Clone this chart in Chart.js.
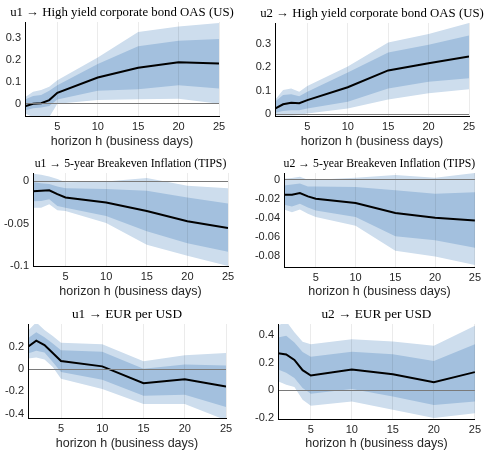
<!DOCTYPE html>
<html>
<head>
<meta charset="utf-8">
<script src="https://cdn.jsdelivr.net/npm/chart.js@4"></script>
<style>
  body { margin: 0; background: #fff; width: 485px; height: 452px; position: relative; overflow: hidden; }
  canvas { position: absolute; }
</style>
</head>
<body>
<script>
// horizons (business days)
const horizons = [1, 2, 3, 4, 5, 10, 15, 20, 25];
const xTicks = [5, 10, 15, 20, 25];

// u1 -> HY OAS
const oasU1Mean    = [-0.011, 0.0, 0.003, 0.017, 0.05, 0.119, 0.163, 0.188, 0.182];
const oasU1DarkUp  = [0.02, 0.035, 0.04, 0.059, 0.084, 0.18, 0.26, 0.285, 0.293];
const oasU1DarkLo  = [-0.03, -0.02, -0.017, -0.01, 0.02, 0.059, 0.066, 0.084, 0.069];
const oasU1LightUp = [0.03, 0.055, 0.062, 0.077, 0.107, 0.21, 0.325, 0.35, 0.366];
const oasU1LightLo = [-0.044, -0.06, -0.06, -0.06, 0.0, 0.017, 0.021, 0.023, 0.0];

// u2 -> HY OAS
const oasU2Mean    = [0.024, 0.042, 0.049, 0.047, 0.06, 0.115, 0.187, 0.218, 0.247];
const oasU2DarkUp  = [0.053, 0.082, 0.085, 0.077, 0.096, 0.178, 0.264, 0.297, 0.336];
const oasU2DarkLo  = [0.006, 0.013, 0.017, 0.017, 0.024, 0.053, 0.11, 0.139, 0.154];
const oasU2LightUp = [0.06, 0.103, 0.11, 0.096, 0.12, 0.204, 0.307, 0.343, 0.39];
const oasU2LightLo = [-0.006, -0.006, -0.006, -0.004, 0.003, 0.024, 0.063, 0.089, 0.106];

// u1 -> 5y breakeven
const bkU1Mean    = [-0.0116, -0.011, -0.0104, -0.015, -0.019, -0.025, -0.035, -0.047, -0.055];
const bkU1DarkUp  = [-0.001, -0.002, -0.003, -0.006, -0.008, -0.009, -0.011, -0.019, -0.026];
const bkU1DarkLo  = [-0.0235, -0.023, -0.021, -0.029, -0.031, -0.041, -0.059, -0.073, -0.083];
const bkU1LightUp = [0.009, 0.008, 0.006, 0.003, -0.001, 0.0, 0.004, -0.005, -0.008];
const bkU1LightLo = [-0.031, -0.031, -0.027, -0.034, -0.035, -0.049, -0.075, -0.088, -0.1];

// u2 -> 5y breakeven
const bkU2Mean    = [-0.0157, -0.0157, -0.014, -0.0174, -0.0198, -0.0243, -0.0348, -0.0397, -0.0424];
const bkU2DarkUp  = [-0.006, -0.005, -0.004, -0.007, -0.007, -0.0077, -0.011, -0.0146, -0.013];
const bkU2DarkLo  = [-0.026, -0.028, -0.025, -0.029, -0.032, -0.039, -0.059, -0.063, -0.071];
const bkU2LightUp = [0.001, 0.0017, 0.003, 0.0, 0.0, 0.002, 0.005, 0.002, 0.007];
const bkU2LightLo = [-0.031, -0.034, -0.031, -0.0355, -0.039, -0.048, -0.074, -0.08, -0.089];

// u1 -> EUR per USD
const fxU1Mean    = [0.2, 0.255, 0.215, 0.145, 0.073, 0.024, -0.127, -0.091, -0.158];
const fxU1DarkUp  = [0.276, 0.33, 0.285, 0.23, 0.17, 0.155, 0.003, 0.042, 0.033];
const fxU1DarkLo  = [0.14, 0.164, 0.148, 0.064, -0.027, -0.097, -0.24, -0.23, -0.34];
const fxU1LightUp = [0.345, 0.42, 0.35, 0.297, 0.236, 0.224, 0.07, 0.124, 0.145];
const fxU1LightLo = [0.094, 0.103, 0.085, 0.018, -0.088, -0.179, -0.315, -0.315, -0.46];

// u2 -> EUR per USD
const fxU2Mean    = [0.268, 0.26, 0.22, 0.146, 0.107, 0.151, 0.117, 0.059, 0.132];
const fxU2DarkUp  = [0.383, 0.395, 0.346, 0.278, 0.244, 0.28, 0.261, 0.212, 0.334];
const fxU2DarkLo  = [0.151, 0.127, 0.09, 0.017, -0.024, 0.01, -0.044, -0.105, -0.08];
const fxU2LightUp = [0.468, 0.5, 0.42, 0.351, 0.334, 0.37, 0.354, 0.322, 0.468];
const fxU2LightLo = [0.066, 0.041, 0.024, -0.068, -0.112, -0.08, -0.141, -0.2, -0.166];

// y tick values and labels
const yTicksOas  = [0, 0.1, 0.2, 0.3];
const yLabelsOas = ['0', '0.1', '0.2', '0.3'];
const yTicksBk1  = [-0.1, -0.05, 0];
const yLabelsBk1 = ['-0.1', '-0.05', '0'];
const yTicksBk2  = [-0.08, -0.06, -0.04, -0.02, 0];
const yLabelsBk2 = ['-0.08', '-0.06', '-0.04', '-0.02', '0'];
const yTicksFx1  = [-0.4, -0.2, 0, 0.2];
const yLabelsFx1 = ['-0.4', '-0.2', '0', '0.2'];
const yTicksFx2  = [-0.2, 0, 0.2, 0.4];
const yLabelsFx2 = ['-0.2', '0', '0.2', '0.4'];

const LIGHT = 'rgb(205,221,237)';
const DARK = 'rgb(163,192,222)';
const SANS = "'Liberation Sans', Arial, sans-serif";
const SERIF = "'Liberation Serif', 'DejaVu Serif', serif";

const panels = [
  { title: 'u1 → High yield corporate bond OAS (US)', titleSize: 12.8, x: 0, y: 0, w: 243, h: 150,
    plotL: 25, plotR: 219, plotT: 22, titleY: 12.7, plotB: 116, yMin: -0.055, yMax: 0.37,
    yTicks: yTicksOas, yLabels: yLabelsOas,
    mean: oasU1Mean, darkUp: oasU1DarkUp, darkLo: oasU1DarkLo, lightUp: oasU1LightUp, lightLo: oasU1LightLo },
  { title: 'u2 → High yield corporate bond OAS (US)', titleSize: 12.8, x: 243, y: 0, w: 242, h: 150,
    plotL: 275, plotR: 469, plotT: 23, titleY: 14, plotB: 116, yMin: -0.008, yMax: 0.39,
    yTicks: yTicksOas, yLabels: yLabelsOas,
    mean: oasU2Mean, darkUp: oasU2DarkUp, darkLo: oasU2DarkLo, lightUp: oasU2LightUp, lightLo: oasU2LightLo },
  { title: 'u1 → 5-year Breakeven Inflation (TIPS)', titleSize: 11.8, x: 0, y: 150, w: 243, h: 150,
    plotL: 33, plotR: 228, plotT: 173, titleY: 164, plotB: 266, yMin: -0.1, yMax: 0.01,
    yTicks: yTicksBk1, yLabels: yLabelsBk1,
    mean: bkU1Mean, darkUp: bkU1DarkUp, darkLo: bkU1DarkLo, lightUp: bkU1LightUp, lightLo: bkU1LightLo },
  { title: 'u2 → 5-year Breakeven Inflation (TIPS)', titleSize: 11.8, x: 243, y: 150, w: 242, h: 150,
    plotL: 284, plotR: 476, plotT: 173, titleY: 164, plotB: 267, yMin: -0.091, yMax: 0.007,
    yTicks: yTicksBk2, yLabels: yLabelsBk2,
    mean: bkU2Mean, darkUp: bkU2DarkUp, darkLo: bkU2DarkLo, lightUp: bkU2LightUp, lightLo: bkU2LightLo },
  { title: 'u1 → EUR per USD', titleSize: 13.3, x: 0, y: 300, w: 243, h: 152,
    plotL: 28, plotR: 226, plotT: 324, titleY: 315, plotB: 418, yMin: -0.44, yMax: 0.405,
    yTicks: yTicksFx1, yLabels: yLabelsFx1,
    mean: fxU1Mean, darkUp: fxU1DarkUp, darkLo: fxU1DarkLo, lightUp: fxU1LightUp, lightLo: fxU1LightLo },
  { title: 'u2 → EUR per USD', titleSize: 13.3, x: 243, y: 300, w: 242, h: 152,
    plotL: 278, plotR: 476, plotT: 324, titleY: 315, plotB: 419, yMin: -0.207, yMax: 0.48,
    yTicks: yTicksFx2, yLabels: yLabelsFx2,
    mean: fxU2Mean, darkUp: fxU2DarkUp, darkLo: fxU2DarkLo, lightUp: fxU2LightUp, lightLo: fxU2LightLo },
];

const pts = arr => horizons.map((h, i) => ({ x: h, y: arr[i] }));
const band = (arr, fill, color) => ({
  data: pts(arr), fill: fill, backgroundColor: color || 'transparent',
  borderWidth: 0, borderColor: 'transparent', pointRadius: 0
});

// panel title centred over the plot area, allowed to run past its edges
const panelTitle = {
  id: 'panelTitle',
  afterDraw(chart, args, opts) {
    const { ctx, chartArea } = chart;
    ctx.save();
    ctx.font = opts.size + 'px ' + SERIF;
    ctx.fillStyle = '#000';
    ctx.textAlign = 'center';
    ctx.textBaseline = 'middle';
    ctx.fillText(opts.text, (chartArea.left + chartArea.right) / 2, opts.y);
    ctx.restore();
  }
};

panels.forEach(p => {
  const cv = document.createElement('canvas');
  cv.width = p.w; cv.height = p.h;
  cv.style.left = p.x + 'px'; cv.style.top = p.y + 'px';
  document.body.appendChild(cv);

  new Chart(cv.getContext('2d'), {
    type: 'line',
    data: {
      datasets: [
        { data: pts(p.mean), borderColor: '#000', borderWidth: 2, pointRadius: 0, fill: false },
        band(p.darkLo, false),
        band(p.darkUp, '-1', DARK),
        band(p.lightLo, false),
        band(p.lightUp, '-1', LIGHT),
      ]
    },
    plugins: [panelTitle],
    options: {
      responsive: false,
      animation: false,
      devicePixelRatio: 1,
      layout: { padding: { left: 0, top: p.plotT - p.y, bottom: 0, right: p.x + p.w - p.plotR } },
      plugins: {
        legend: { display: false },
        tooltip: { enabled: false },
        title: { display: false },
        panelTitle: { text: p.title, size: p.titleSize, y: p.titleY - p.y }
      },
      scales: {
        x: {
          type: 'linear', min: 1, max: 25,
          afterBuildTicks: s => { s.ticks = xTicks.map(v => ({ value: v })); },
          afterFit: s => { s.height = p.y + p.h - p.plotB; },
          grid: { color: 'rgba(0,0,0,0.08)', drawTicks: false, z: 1 },
          border: { color: '#000', width: 1, z: 2 },
          ticks: { padding: 4, color: '#262626', maxRotation: 0, font: { family: SANS, size: 11 } },
          title: { display: true, text: 'horizon h (business days)', color: '#262626',
                   font: { family: SANS, size: 12.5 }, padding: { top: 0, bottom: 1 } }
        },
        y: {
          min: p.yMin, max: p.yMax,
          afterBuildTicks: s => { s.ticks = p.yTicks.map(v => ({ value: v })); },
          afterFit: s => { s.width = p.plotL - p.x; },
          grid: { drawTicks: false, z: 1,
                  color: c => (c.tick && c.tick.value === 0) ? '#7a7a7a' : 'transparent' },
          border: { color: '#000', width: 1, z: 2 },
          ticks: { padding: 4, color: '#262626', font: { family: SANS, size: 11 },
                   callback: (v, i) => p.yLabels[i] }
        }
      }
    }
  });
});
</script>
</body>
</html>
